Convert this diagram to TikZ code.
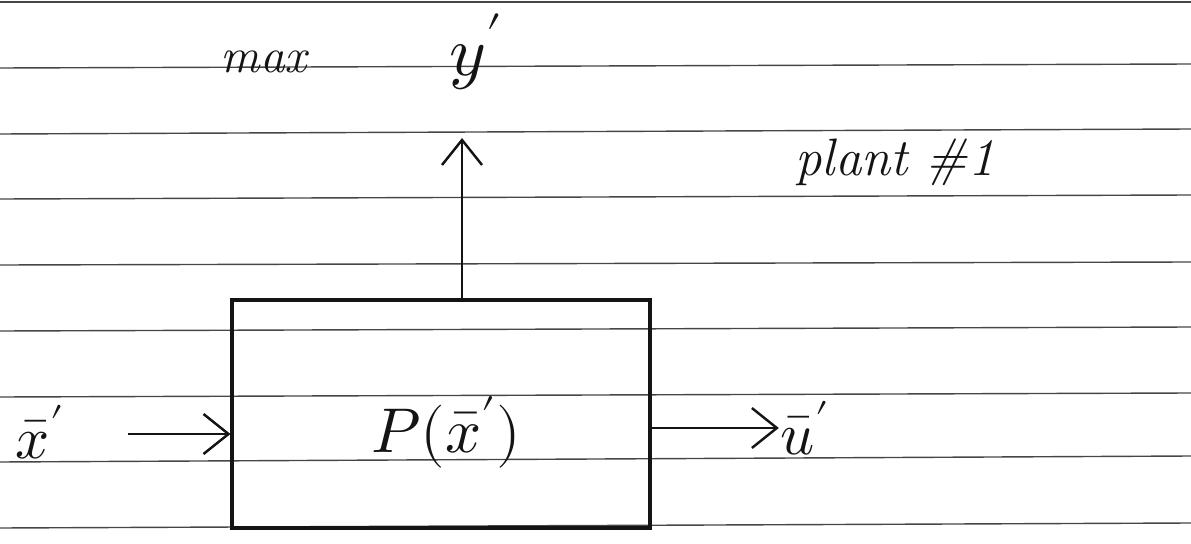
\documentclass[tikz,border=0pt]{standalone}
\usepackage{fontspec}
\usepackage{unicode-math}
\usepackage{tikz}
\usetikzlibrary{arrows.meta,positioning}
\definecolor{ink}{RGB}{20,20,20}
\definecolor{rule}{RGB}{70,70,70}
\tikzset{
  >={Straight Barb[length=5mm,width=8mm,line width=1.4pt]},
  paperline/.style={draw=rule,line width=0.8pt},
  plantbox/.style={draw=ink,line width=1.8pt,minimum width=8.36cm,minimum height=4.56cm,inner sep=0pt},
  flow/.style={->,draw=ink,line width=1.4pt},
  hand/.style={text=ink,inner sep=1pt,font=\fontsize{#1}{#1}\selectfont\itshape},
  hand/.default=34,
}
\begin{document}
\begin{tikzpicture}[x=0.02cm,y=-0.02cm]
  \useasboundingbox (0,0) rectangle (1191,544);
  % ruled paper
  \foreach \y/\z in {2/2,68/64,134/129,199/195,265/262,331/327,397/393,462/456,528/523}
    \draw[paperline] (0,\y) -- (1191,\z);
  % plant
  \node[plantbox] (plant) at (441,414) {};
  \node[hand=36] (plabel) at (446,432) {$P(\bar{x}')$};
  \node[hand=34] (xin) at (40,432) {$\bar{x}'$};
  \node[hand=34] (uout) at (805,428) {$\bar{u}'$};
  \node[hand=28] (maxlbl) at (264,62) {max};
  \node[hand=40] (ymax) at (476,52) {$y'$};
  \node[hand=30] (plantno) at (895,162) {plant \#1};
  \coordinate (ytip) at (462,138);
  \coordinate (xtail) at (128,434);
  \draw[flow] (plant.north -| ytip) -- (ytip);
  \draw[flow] (xtail) -- (xtail -| plant.west);
  \draw[flow] (plant.east |- uout) -- (uout.west);
\end{tikzpicture}
\end{document}
